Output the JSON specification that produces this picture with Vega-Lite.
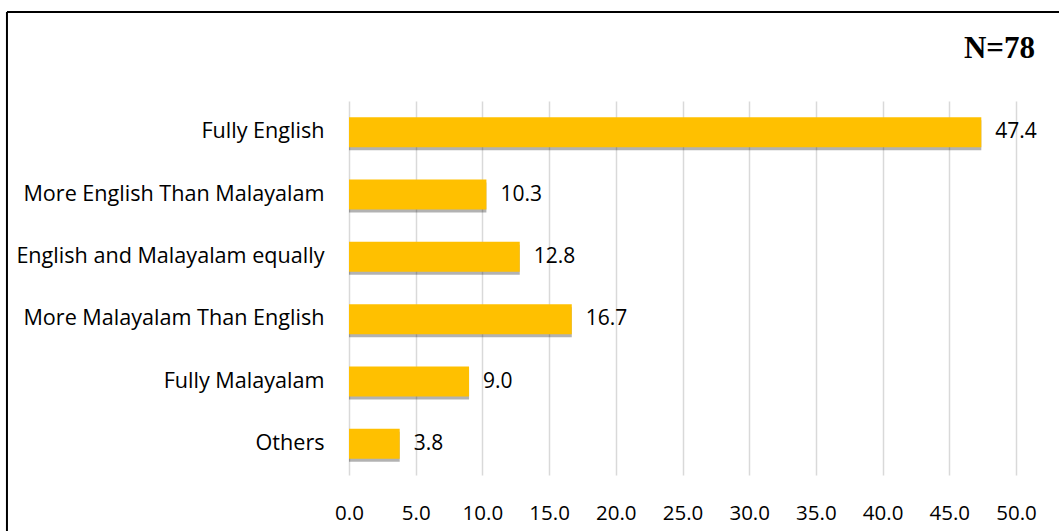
{
  "$schema": "https://vega.github.io/schema/vega-lite/v6.json",
  "width": 667,
  "height": 374,
  "autosize": {"type": "none"},
  "padding": {"left": 349, "top": 101, "right": 43, "bottom": 56},
  "background": "white",
  "config": {"view": {"stroke": null}, "font": "Open Sans"},
  "datasets": {
    "bars": [
      {"category": "Fully English", "percent": 47.4},
      {"category": "More English Than Malayalam", "percent": 10.3},
      {"category": "English and Malayalam equally", "percent": 12.8},
      {"category": "More Malayalam Than English", "percent": 16.7},
      {"category": "Fully Malayalam", "percent": 9.0},
      {"category": "Others", "percent": 3.8}
    ],
    "frame": [{"label": "N=78"}]
  },
  "layer": [
    {
      "data": {"name": "bars"},
      "layer": [
        {
          "mark": {"type": "bar", "color": "#000000", "opacity": 0.3, "xOffset": 0, "x2Offset": 3, "yOffset": 3, "y2Offset": 3},
          "encoding": {
            "y": {"field": "category", "type": "nominal", "sort": null,
                  "scale": {"paddingInner": 0.52, "paddingOuter": 0.26},
                  "axis": {"title": null, "domain": false, "ticks": false, "labelFontSize": 21.6, "labelColor": "#000000", "labelPadding": 25, "labelFont": "Open Sans", "labelLimit": 400}},
            "x": {"field": "percent", "type": "quantitative",
                  "scale": {"domain": [0, 50], "nice": false},
                  "axis": {"title": null, "domain": false, "ticks": false, "values": [0, 5, 10, 15, 20, 25, 30, 35, 40, 45, 50], "format": ".1f", "labelFontSize": 20.5, "labelColor": "#000000", "labelPadding": 28, "labelFont": "Open Sans", "gridColor": "#d9d9d9", "gridWidth": 1.5, "labelFlush": false}}
          }
        },
        {
          "mark": {"type": "bar", "color": "#FFC000"},
          "encoding": {
            "y": {"field": "category", "type": "nominal", "sort": null},
            "x": {"field": "percent", "type": "quantitative"}
          }
        },
        {
          "mark": {"type": "text", "align": "left", "baseline": "middle", "dx": 14, "fontSize": 21, "font": "Open Sans", "color": "#000000"},
          "encoding": {
            "y": {"field": "category", "type": "nominal", "sort": null},
            "x": {"field": "percent", "type": "quantitative"},
            "text": {"field": "percent", "type": "quantitative", "format": ".1f"}
          }
        }
      ]
    },
    {
      "data": {"name": "frame"},
      "layer": [
        {
          "mark": {"type": "rule", "color": "#000000", "strokeWidth": 2},
          "encoding": {
            "x": {"datum": -25.64, "type": "quantitative"},
            "x2": {"datum": 60},
            "y": {"datum": 1.238, "type": "quantitative", "scale": {"domain": [0, 1], "nice": false}, "axis": null}
          }
        },
        {
          "mark": {"type": "rule", "color": "#000000", "strokeWidth": 2},
          "encoding": {
            "x": {"datum": -25.64, "type": "quantitative"},
            "y": {"datum": 1.238, "type": "quantitative", "scale": {"domain": [0, 1], "nice": false}, "axis": null},
            "y2": {"datum": -0.3}
          }
        },
        {
          "mark": {"type": "text", "align": "right", "baseline": "alphabetic", "dx": 19, "font": "Liberation Serif", "fontWeight": "bold", "fontSize": 31, "color": "#000000"},
          "encoding": {
            "x": {"datum": 50, "type": "quantitative"},
            "y": {"datum": 1.115, "type": "quantitative", "scale": {"domain": [0, 1], "nice": false}, "axis": null},
            "text": {"field": "label"}
          }
        }
      ]
    }
  ],
  "resolve": {"scale": {"y": "independent"}}
}
